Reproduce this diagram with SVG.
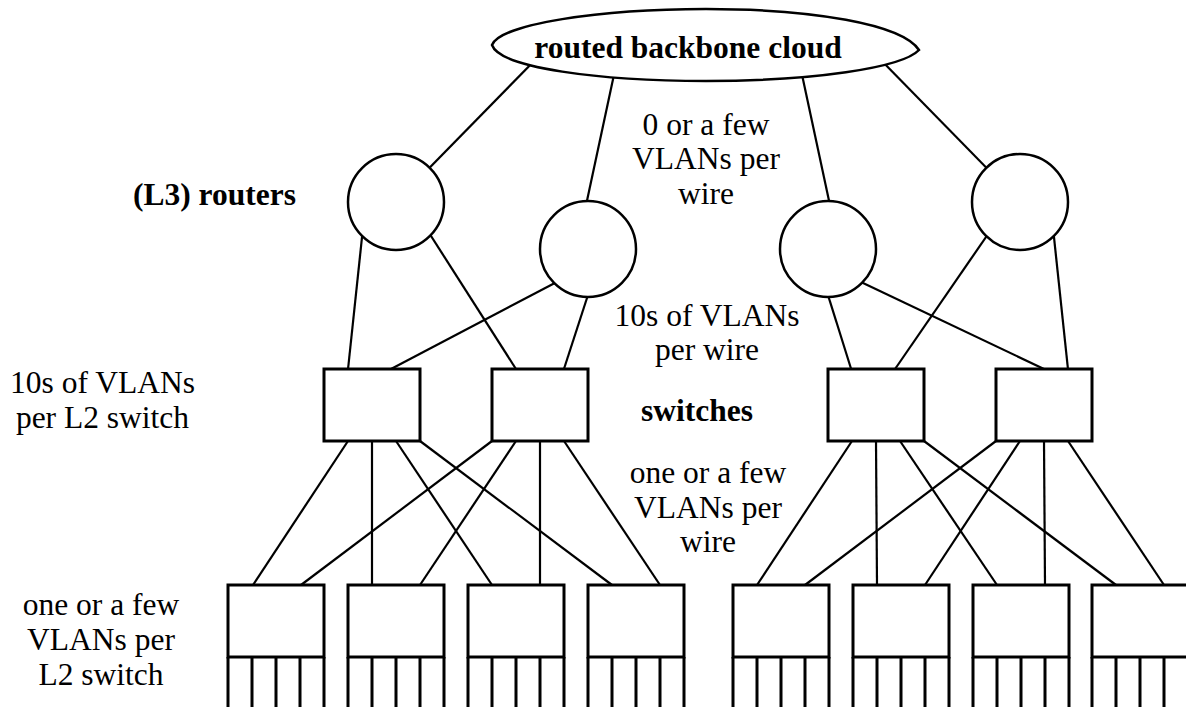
<svg xmlns="http://www.w3.org/2000/svg" width="1186" height="707" viewBox="0 0 1186 707">
  <style>
    .wire { stroke: #000; stroke-width: 2.2; fill: none; stroke-linecap: butt; }
    .cloud { fill: #fff; stroke: #000; stroke-width: 2.5; }
    .router { fill: #fff; stroke: #000; stroke-width: 2.5; }
    .sw { fill: #fff; stroke: #000; stroke-width: 3; }
    .ports { stroke: #000; stroke-width: 3; fill: none; }
    text { font-family: "Liberation Serif", "Times New Roman", serif; font-size: 31.5px; fill: #000; text-anchor: middle; }
    .b { font-weight: bold; }
  </style>

  <rect width="1186" height="707" fill="#fff"/>

  <!-- links: backbone to routers, routers to switches, switches to access switches -->
  <g id="connectors" class="wire">
    <line x1="540" y1="55" x2="396" y2="202"/>
    <line x1="615" y1="70" x2="585" y2="210"/>
    <line x1="801" y1="70" x2="831" y2="210"/>
    <line x1="876" y1="55" x2="1020" y2="202"/>

    <line x1="363.3" y1="225" x2="347.4" y2="375"/>
    <line x1="424" y1="225" x2="519.8" y2="375"/>
    <line x1="564.4" y1="278" x2="383.4" y2="373"/>
    <line x1="589.6" y1="290" x2="562" y2="375"/>
    <line x1="826.4" y1="290" x2="853" y2="375"/>
    <line x1="852.5" y1="278" x2="1052.4" y2="373"/>
    <line x1="994.3" y1="225" x2="890.9" y2="375"/>
    <line x1="1052.7" y1="225" x2="1068.6" y2="375"/>

    <line x1="348" y1="441" x2="253" y2="585"/>
    <line x1="372" y1="441" x2="372" y2="585"/>
    <line x1="396" y1="441" x2="492" y2="585"/>
    <line x1="420" y1="441" x2="612" y2="585"/>
    <line x1="492" y1="441" x2="301" y2="585"/>
    <line x1="516" y1="441" x2="420" y2="585"/>
    <line x1="540" y1="441" x2="540" y2="585"/>
    <line x1="564" y1="441" x2="660" y2="585"/>

    <line x1="852" y1="441" x2="757" y2="585"/>
    <line x1="876" y1="441" x2="877" y2="585"/>
    <line x1="900" y1="441" x2="997" y2="585"/>
    <line x1="924" y1="441" x2="1116" y2="585"/>
    <line x1="996" y1="441" x2="805" y2="585"/>
    <line x1="1020" y1="441" x2="925" y2="585"/>
    <line x1="1044" y1="441" x2="1045" y2="585"/>
    <line x1="1068" y1="441" x2="1164" y2="585"/>
  </g>

  <!-- backbone -->
  <g id="backbone">
    <path class="cloud" d="M492,45 C500,24 600,9 706,9 C812,9 902,24 919,50 C902,68 812,81 706,81 C600,81 500,68 492,45 Z"/>
    <text class="b" x="688" y="58">routed backbone cloud</text>
  </g>

  <!-- L3 routers -->
  <g id="router-1"><circle class="router" cx="396" cy="202" r="48"/></g>
  <g id="router-2"><circle class="router" cx="588" cy="249" r="48"/></g>
  <g id="router-3"><circle class="router" cx="828" cy="249" r="48"/></g>
  <g id="router-4"><circle class="router" cx="1020" cy="202" r="48"/></g>

  <!-- distribution switches -->
  <g id="switch-1"><rect class="sw" x="324" y="369" width="96" height="72"/></g>
  <g id="switch-2"><rect class="sw" x="492" y="369" width="96" height="72"/></g>
  <g id="switch-3"><rect class="sw" x="828" y="369" width="96" height="72"/></g>
  <g id="switch-4"><rect class="sw" x="996" y="369" width="96" height="72"/></g>

  <!-- access switches with their ports -->
  <defs>
    <g id="access">
      <rect class="sw" x="0" y="0" width="96" height="72"/>
      <path class="ports" d="M0,72 V125 M24,72 V125 M48,72 V125 M72,72 V125 M96,72 V125"/>
    </g>
  </defs>
  <g id="access-1"><use href="#access" x="228" y="585"/></g>
  <g id="access-2"><use href="#access" x="348" y="585"/></g>
  <g id="access-3"><use href="#access" x="468" y="585"/></g>
  <g id="access-4"><use href="#access" x="588" y="585"/></g>
  <g id="access-5"><use href="#access" x="733" y="585"/></g>
  <g id="access-6"><use href="#access" x="853" y="585"/></g>
  <g id="access-7"><use href="#access" x="973" y="585"/></g>
  <g id="access-8"><use href="#access" x="1092" y="585"/></g>

  <!-- labels -->
  <g id="labels">
    <text class="b" x="214.5" y="205">(L3) routers</text>

    <text x="706" y="134.5">0 or a few</text>
    <text x="706" y="169">VLANs per</text>
    <text x="706" y="203.5">wire</text>

    <text x="707" y="326">10s of VLANs</text>
    <text x="707" y="360">per wire</text>

    <text class="b" x="697" y="421">switches</text>

    <text x="708" y="483">one or a few</text>
    <text x="708" y="517.5">VLANs per</text>
    <text x="708" y="552">wire</text>

    <text x="102.5" y="393">10s of VLANs</text>
    <text x="102.5" y="428">per L2 switch</text>

    <text x="101" y="615">one or a few</text>
    <text x="101" y="650">VLANs per</text>
    <text x="101" y="684.5">L2 switch</text>
  </g>
</svg>
